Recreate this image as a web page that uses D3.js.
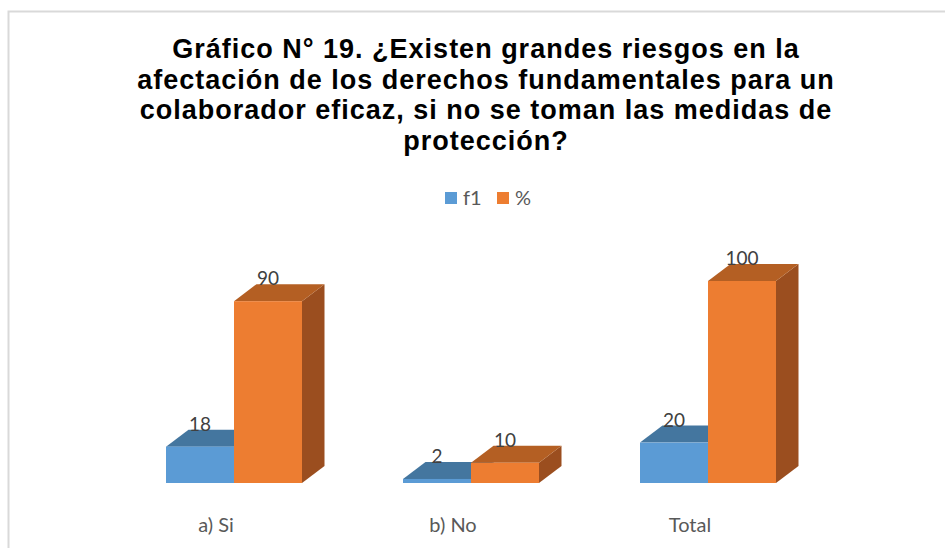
<!DOCTYPE html>
<html><head><meta charset="utf-8">
<script src="https://cdn.jsdelivr.net/npm/d3@7"></script>
<style>body{margin:0;background:#fff}svg{display:block}</style>
</head><body>
<script>
const categories = ["a) Si", "b) No", "Total"];
const seriesNames = ["f1", "%"];
const f1Values = [18, 2, 20];
const pctValues = [90, 10, 100];
const titleLines = ["Gráfico N° 19. ¿Existen grandes riesgos en la",
  "afectación de los derechos fundamentales para un",
  "colaborador eficaz, si no se toman las medidas de",
  "protección?"];

const W = 945, H = 548;
const svg = d3.select("body").append("svg").attr("width", W).attr("height", H);
svg.append("rect").attr("width", W).attr("height", H).attr("fill", "#fff");
svg.append("rect").attr("x", 8.5).attr("y", 11.5).attr("width", 980).attr("height", 600)
  .attr("fill", "none").attr("stroke", "#d9d9d9").attr("stroke-width", 2);

// title
const title = svg.append("text").attr("text-anchor", "middle")
  .attr("font-family", "'Liberation Sans', Arial, sans-serif").attr("font-weight", "bold")
  .attr("font-size", 27).attr("letter-spacing", 1.0).attr("fill", "#000");
titleLines.forEach((t, i) => title.append("tspan").attr("x", 486).attr("y", 58 + i * 30.5).text(t));

const colors = {
  "f1": {front: "#5b9bd5", top: "#44769f", side: "#3a6690"},
  "%": {front: "#ed7d31", top: "#b45f23", side: "#9b4e1f"}
};

// legend
const legend = svg.append("g").attr("font-family", "Lato, 'Open Sans', sans-serif").attr("font-size", 20).attr("fill", "#595959");
const legX = [445, 497];
seriesNames.forEach((s, i) => {
  legend.append("rect").attr("x", legX[i]).attr("y", 192).attr("width", 12).attr("height", 12).attr("fill", colors[s].front);
  legend.append("text").attr("x", legX[i] + 18).attr("y", 205).text(s);
});

const x = d3.scalePoint().domain(categories).range([234, 708]);
const xs = d3.scaleBand().domain(seriesNames).range([-68, 68]);
const y = d3.scaleLinear().domain([0, 100]).range([483, 281]);
const dx = 22.5, dy = 17;

const rows = [];
categories.forEach((c, i) => {
  rows.push({cat: c, s: "f1", v: f1Values[i]});
  rows.push({cat: c, s: "%", v: pctValues[i]});
});

const g = svg.append("g");
rows.forEach(d => {
  const x0 = x(d.cat) + xs(d.s), x1 = x0 + xs.bandwidth();
  const yt = y(d.v), yb = y(0);
  const col = colors[d.s];
  g.append("path").attr("d", `M${x1},${yb}L${x1+dx},${yb-dy}L${x1+dx},${yt-dy}L${x1},${yt}Z`).attr("fill", col.side);
  g.append("path").attr("d", `M${x0},${yt}L${x1},${yt}L${x1+dx},${yt-dy}L${x0+dx},${yt-dy}Z`).attr("fill", col.top);
  g.append("rect").attr("x", x0).attr("y", yt).attr("width", x1 - x0).attr("height", yb - yt).attr("fill", col.front);
});

// data labels
const labels = svg.append("g").attr("font-family", "Lato, 'Open Sans', sans-serif").attr("font-size", 19)
  .attr("fill", "#404040").attr("text-anchor", "middle");
rows.forEach(d => {
  const cx = x(d.cat) + xs(d.s) + xs.bandwidth() / 2;
  labels.append("text").attr("x", cx).attr("y", y(d.v) - dy + 1).text(d.v);
});

// category labels
const catG = svg.append("g").attr("font-family", "Lato, 'Open Sans', sans-serif").attr("font-size", 20)
  .attr("fill", "#595959").attr("text-anchor", "middle");
categories.forEach(c => catG.append("text").attr("x", x(c) - 18).attr("y", 532).text(c));
</script>
</body></html>
